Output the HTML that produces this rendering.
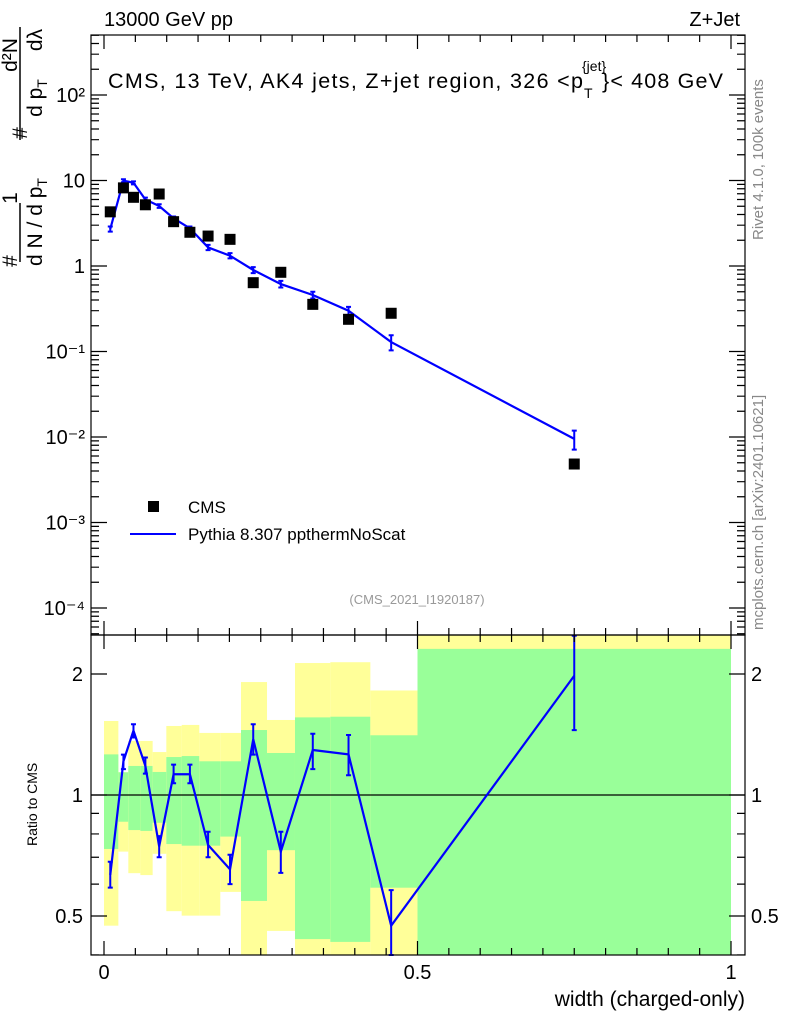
<!DOCTYPE html>
<html><head><meta charset="utf-8"><style>
body{margin:0;background:#fff;}
svg{display:block;font-family:"Liberation Sans",sans-serif;}
</style></head><body>
<svg id="chart" width="786" height="1024" viewBox="0 0 786 1024">
<g id="ratioBands"></g>
<g id="marks"></g>
<g id="axes"></g>
<text x="104" y="26" font-size="20">13000 GeV pp</text>
<text x="740" y="26" font-size="20" text-anchor="end">Z+Jet</text>
<g>
<text x="108" y="88" font-size="21.5" textLength="475" lengthAdjust="spacing">CMS, 13 TeV, AK4 jets, Z+jet region, 326 &lt;p</text>
<text x="584" y="98" font-size="14">T</text>
<text x="582" y="71" font-size="14">{jet}</text>
<text x="602" y="88" font-size="21.5" textLength="121" lengthAdjust="spacing">}&lt; 408 GeV</text>
</g>
<text transform="translate(763,240) rotate(-90)" font-size="15" fill="#888">Rivet 4.1.0,  100k events</text>
<text transform="translate(763,630) rotate(-90)" font-size="15" fill="#888">mcplots.cern.ch [arXiv:2401.10621]</text>
<text x="417" y="604" font-size="13" fill="#999" text-anchor="middle">(CMS_2021_I1920187)</text>
<g font-size="21" text-anchor="middle">
<line x1="20" y1="262" x2="20" y2="203" stroke="#000" stroke-width="1.5"/>
<line x1="20" y1="140" x2="20" y2="27" stroke="#000" stroke-width="1.5"/>
<text transform="translate(17,261) rotate(-90)">#</text>
<text transform="translate(17,198) rotate(-90)">1</text>
<text transform="translate(17,55) rotate(-90)">d²N</text>
<text transform="translate(27,133) rotate(-90)">#</text>
<text transform="translate(42,222) rotate(-90)">d N / d p<tspan font-size="14" dy="5">T</tspan></text>
<text transform="translate(42,98) rotate(-90)">d p<tspan font-size="14" dy="5">T</tspan></text>
<text transform="translate(42,40) rotate(-90)">dλ</text>
</g>
<g>
<rect x="148" y="501" width="11" height="11" fill="#000"/>
<text x="188" y="513" font-size="17">CMS</text>
<line x1="130" y1="534" x2="176" y2="534" stroke="#00f" stroke-width="2"/>
<text x="188" y="540" font-size="17">Pythia 8.307 ppthermNoScat</text>
</g>
<text transform="translate(37,846) rotate(-90)" font-size="14">Ratio to CMS</text>
<text x="745" y="1006" font-size="21" text-anchor="end">width (charged-only)</text>
</svg>
<script>
const edges=[0,0.0229,0.0388,0.058,0.0776,0.0994,0.1239,0.152,0.1855,0.2185,0.26,0.3046,0.361,0.4248,0.5,1.0];
const xPoints=[0.01,0.031,0.047,0.066,0.088,0.111,0.137,0.166,0.201,0.238,0.282,0.333,0.39,0.458,0.75];
const cmsValues=[4.3,8.2,6.36,5.2,6.95,3.3,2.48,2.24,2.05,0.638,0.844,0.356,0.238,0.28,0.00483];
const mcValues=[2.71,9.95,9.4,6.0,5.03,3.61,2.76,1.65,1.32,0.898,0.615,0.458,0.3,0.129,0.0095];
const mcRelErr=[0.07,0.04,0.04,0.05,0.05,0.05,0.05,0.07,0.07,0.08,0.09,0.09,0.11,0.2,0.25];
const ratioValues=[0.633,1.213,1.446,1.181,0.745,1.126,1.126,0.751,0.653,1.376,0.723,1.294,1.262,0.473,1.98];
const ratioErrLo=[0.588,1.16,1.39,1.13,0.70,1.07,1.07,0.70,0.60,1.26,0.64,1.16,1.12,0.35,1.45];
const ratioErrHi=[0.682,1.26,1.50,1.24,0.79,1.19,1.19,0.81,0.71,1.50,0.81,1.42,1.41,0.58,2.49];
const greenHi=[1.262,1.139,1.181,1.181,1.141,1.243,1.25,1.213,1.213,1.451,1.272,1.56,1.566,1.408,2.31];
const greenLo=[0.734,0.858,0.818,0.814,0.853,0.755,0.748,0.748,0.788,0.545,0.729,0.438,0.431,0.588,0.3];
const yellowHi=[1.528,1.139,1.363,1.363,1.279,1.485,1.494,1.427,1.427,1.91,1.537,2.13,2.14,1.82,3.0];
const yellowLo=[0.473,0.723,0.639,0.632,0.714,0.514,0.501,0.501,0.574,0.3,0.459,0.3,0.3,0.3,0.3];
const mainTicks=[-4,-3,-2,-1,0,1,2];
const mainTickLabels=["10⁻⁴","10⁻³","10⁻²","10⁻¹","1","10","10²"];
const ratioTickVals=[0.5,1,2];
const ratioTickLabels=["0.5","1","2"];
const xTickVals=[0,0.5,1];
const xTickLabels=["0","0.5","1"];

const NS="http://www.w3.org/2000/svg";
const L=91,R=745,T=35,M=635,B=955;
const X=v=>104+v*627;
const Ym=v=>95+(2-Math.log10(v))*85.5;
const Yr=v=>Math.max(T,Math.min(B,795-401.9*Math.log10(v)));
const Yrc=v=>Math.max(M,Math.min(B,795-401.9*Math.log10(v)));
function el(tag,attrs,parent){const e=document.createElementNS(NS,tag);for(const k in attrs)e.setAttribute(k,attrs[k]);parent.appendChild(e);return e;}
const bands=document.getElementById('ratioBands'),marks=document.getElementById('marks'),axes=document.getElementById('axes');

for(let i=0;i<xPoints.length;i++){
  const x0=X(edges[i]),x1=X(edges[i+1]);
  const y=el('rect',{x:x0,y:Yrc(yellowHi[i]),width:x1-x0,height:Yrc(yellowLo[i])-Yrc(yellowHi[i]),fill:'#ffff99'},bands);
  
  
  const g=el('rect',{x:x0,y:Yrc(greenHi[i]),width:x1-x0,height:Yrc(greenLo[i])-Yrc(greenHi[i]),fill:'#99ff99'},bands);
  
  
}
el('line',{x1:L,x2:R,y1:Yr(1),y2:Yr(1),stroke:'#000','stroke-width':1.2},marks);

let pts=xPoints.map((x,i)=>X(x)+','+Ym(mcValues[i])).join(' ');
const ml=el('polyline',{points:pts,fill:'none',stroke:'#00f','stroke-width':2.2},marks);


for(let i=0;i<xPoints.length;i++){
  const x=X(xPoints[i]),y1=Ym(mcValues[i]*(1+mcRelErr[i])),y2=Ym(mcValues[i]*(1-mcRelErr[i]));
  const eb=el('path',{d:`M${x},${y1}V${y2}M${x-2.5},${y1}h5M${x-2.5},${y2}h5`,stroke:'#00f','stroke-width':2,fill:'none'},marks);
  
  
  const c=el('rect',{x:X(xPoints[i])-5.5,y:Ym(cmsValues[i])-5.5,width:11,height:11,fill:'#000'},marks);
  
  
}
pts=xPoints.map((x,i)=>X(x)+','+Yr(ratioValues[i])).join(' ');
const cp=el('clipPath',{id:'rc'},marks);el('rect',{x:L,y:M,width:R-L,height:B-M},cp);
const rl=el('polyline',{points:pts,fill:'none',stroke:'#00f','stroke-width':2.2,'clip-path':'url(#rc)'},marks);


for(let i=0;i<xPoints.length;i++){
  const x=X(xPoints[i]),y1=Yrc(ratioErrHi[i]),y2=Yrc(ratioErrLo[i]);
  const eb=el('path',{d:`M${x},${y1}V${y2}M${x-2.5},${y1}h5M${x-2.5},${y2}h5`,stroke:'#00f','stroke-width':2,fill:'none'},marks);
  
  
}
el('rect',{x:L,y:T,width:R-L,height:M-T,fill:'none',stroke:'#000','stroke-width':1.2},axes);
el('rect',{x:L,y:M,width:R-L,height:B-M,fill:'none',stroke:'#000','stroke-width':1.2},axes);
let d='';
for(let e=-5;e<=2;e++){for(let m=1;m<10;m++){const v=m*Math.pow(10,e);const y=Ym(v);if(y<T||y>M)continue;const len=m===1?16:8;d+=`M${L},${y}h${len}M${R},${y}h${-len}`;}}
mainTicks.forEach((t,i)=>{
  const tx=el('text',{x:L-6,y:Ym(Math.pow(10,t))+7,'font-size':20,'text-anchor':'end'},axes);
  tx.textContent=mainTickLabels[i];
  
  
});
[0.4,0.5,0.6,0.7,0.8,0.9,1,2].forEach(v=>{const y=Yr(v);if(y<M||y>B)return;const len=(v===0.5||v===1||v===2)?16:8;d+=`M${L},${y}h${len}M${R},${y}h${-len}`;});
ratioTickVals.forEach((v,i)=>{
  const a=el('text',{x:L-8,y:Yr(v)+7,'font-size':20,'text-anchor':'end'},axes);a.textContent=ratioTickLabels[i];
  
  
  const b=el('text',{x:R+6,y:Yr(v)+7,'font-size':20},axes);b.textContent=ratioTickLabels[i];
  
  
});
for(let k=0;k<=20;k++){const v=k*0.05;const x=X(v);const len=(k%10===0)?14:7;d+=`M${x},${B}v${-len}M${x},${M}v${len}M${x},${M}v${-len}M${x},${T}v${len}`;}
xTickVals.forEach((v,i)=>{
  const t=el('text',{x:X(v),y:979,'font-size':20,'text-anchor':'middle'},axes);t.textContent=xTickLabels[i];
  
  
});
el('path',{d:d,stroke:'#000','stroke-width':1.2,fill:'none'},axes);
</script>
</body></html>
